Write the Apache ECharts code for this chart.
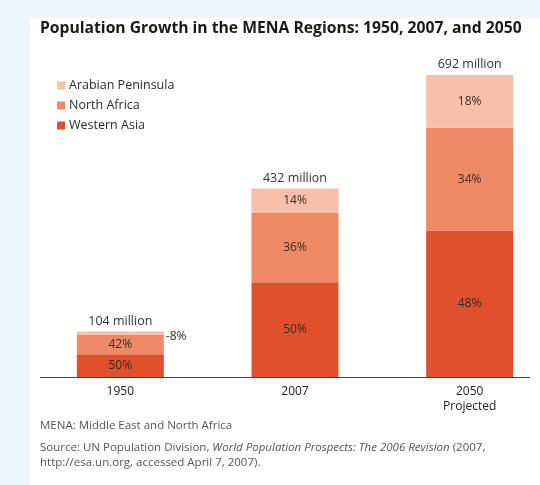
<!DOCTYPE html>
<html><head><meta charset="utf-8">
<style>html,body{margin:0;padding:0;background:#eef5fd;}#c{width:540px;height:485px;}</style>
<script src="https://cdn.jsdelivr.net/npm/echarts@6/dist/echarts.min.js"></script>
</head><body><div id="c"></div>
<script>
// Data (millions)
const categories = ['1950', '2007', '2050\nProjected'];
const westernAsia = [52, 217, 335];
const northAfrica = [44, 159, 236];
const arabianPeninsula = [8, 56, 121];
const totalLabels = ['104 million', '432 million', '692 million'];
const waPct = ['50%', '50%', '48%'];
const naPct = ['42%', '36%', '34%'];
const apPct = ['-8%', '14%', '18%'];

const chart = echarts.init(document.getElementById('c'), null, {renderer: 'canvas'});
const FONT = '"Open Sans", "Noto Sans", sans-serif';
const lblColor = '#3a2a22';

function segLabel(arr) {
  return {show: true, position: 'inside', color: lblColor, fontFamily: FONT, fontSize: 12,
    formatter: p => arr[p.dataIndex]};
}

chart.setOption({
  backgroundColor: '#eef5fd',
  animation: false,
  graphic: [
    {type: 'rect', left: 30, top: 18, shape: {width: 510, height: 467}, style: {fill: '#ffffff'}, z: -10},
    {type: 'text', left: 40, top: 21, style: {text: 'Population Growth in the MENA Regions: 1950, 2007, and 2050', font: 'bold 15.7px ' + FONT, fill: '#1a1a1a'}},
    {type: 'line', shape: {x1: 40, y1: 377.5, x2: 530, y2: 377.5}, style: {stroke: '#444', lineWidth: 1}},
    {type: 'text', left: 40, top: 420, style: {text: 'MENA: Middle East and North Africa', font: '11.5px ' + FONT, fill: '#555'}},
    {type: 'text', left: 40, top: 442, style: {
      rich: {n: {fontFamily: FONT, fontSize: 11.5, fill: '#555', lineHeight: 15}, i: {fontFamily: FONT, fontSize: 11.5, fontStyle: 'italic', fill: '#555', lineHeight: 15}},
      text: '{n|Source: UN Population Division, }{i|World Population Prospects: The 2006 Revision}{n| (2007,}\n{n|http://esa.un.org, accessed April 7, 2007).}'
    }}
  ],
  legend: {
    data: ['Arabian Peninsula', 'North Africa', 'Western Asia'],
    orient: 'vertical', left: 52, top: 74, itemWidth: 8, itemHeight: 8, itemGap: 7,
    icon: 'rect',
    textStyle: {fontFamily: FONT, fontSize: 12.5, color: '#2a2a2a', padding: [0, 0, 0, -1]}
  },
  grid: {left: 33, top: 71.5, width: 524, bottom: 108, containLabel: false, outerBoundsMode: 'none'},
  xAxis: {
    type: 'category', data: categories,
    axisLine: {show: false}, axisTick: {show: false},
    axisLabel: {fontFamily: FONT, fontSize: 12, color: '#222', margin: 7, lineHeight: 15}
  },
  yAxis: {type: 'value', min: 0, max: 700, show: false, splitLine: {show: false}},
  series: [
    {name: 'Western Asia', type: 'bar', stack: 't', barWidth: 87, data: westernAsia,
      itemStyle: {color: '#e0502c'}, label: segLabel(waPct)},
    {name: 'North Africa', type: 'bar', stack: 't', barWidth: 87, data: northAfrica,
      itemStyle: {color: '#ee8865'}, label: segLabel(naPct)},
    {name: 'Arabian Peninsula', type: 'bar', stack: 't', barWidth: 87, data: arabianPeninsula,
      itemStyle: {color: '#f8c0a8'},
      label: {show: true, position: 'inside', color: lblColor, fontFamily: FONT, fontSize: 12,
        formatter: p => p.dataIndex === 0 ? '' : apPct[p.dataIndex]}},
    {name: 'apSide', type: 'bar', stack: 't', barWidth: 87, data: [0, 0, 0],
      itemStyle: {color: 'transparent'}, silent: true,
      label: {show: true, position: 'top', distance: 4, color: '#333', fontFamily: FONT, fontSize: 12.5,
        formatter: p => totalLabels[p.dataIndex]}},
    {name: 'eightPct', type: 'bar', stack: 's2', barWidth: 87, barGap: '-100%',
      data: [westernAsia[0] + northAfrica[0] + arabianPeninsula[0] / 2, '-', '-'],
      itemStyle: {color: 'transparent'}, silent: true,
      label: {show: true, position: [89, -3], color: lblColor, fontFamily: FONT, fontSize: 12,
        formatter: p => apPct[p.dataIndex]}}
  ]
});
</script></body></html>
